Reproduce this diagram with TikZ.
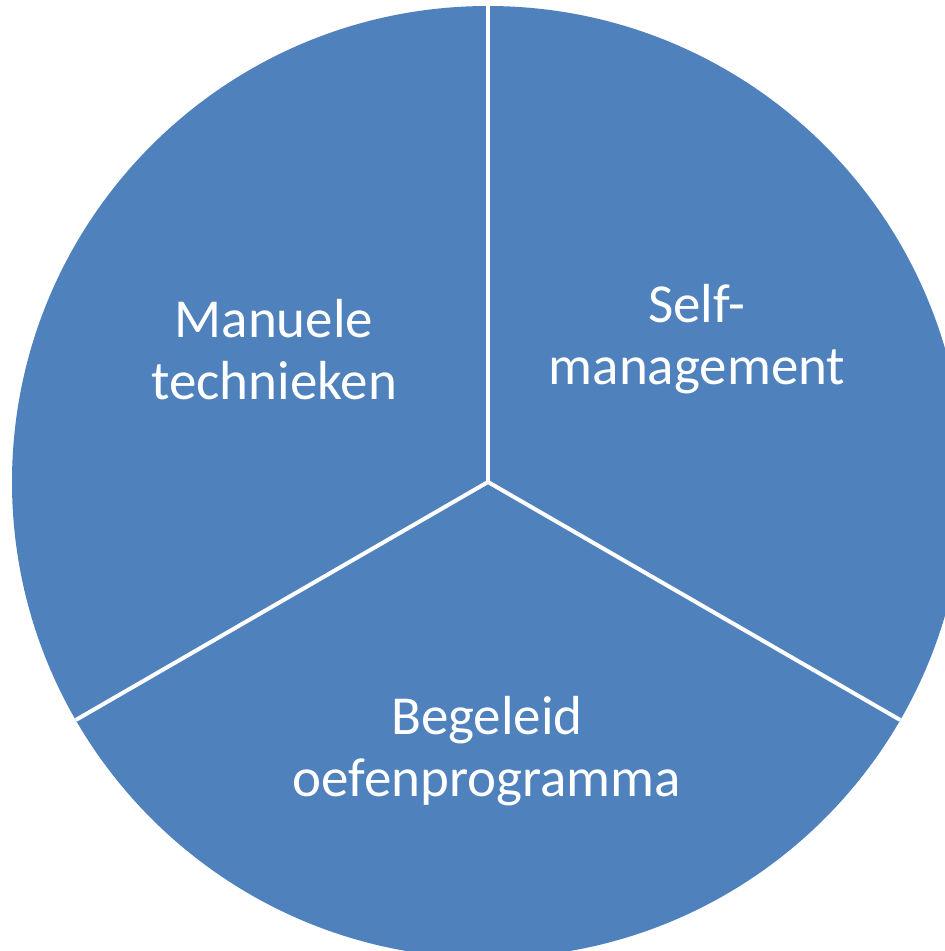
\documentclass[tikz,border=0pt]{standalone}
\usepackage{fontspec}
\setmainfont{Carlito}
\usetikzlibrary{calc}
\definecolor{pieblue}{HTML}{4F81BD}
\begin{document}
\begin{tikzpicture}[x=1pt,y=1pt,
  sector/.style={fill=pieblue,draw=none},
  divider/.style={draw=white,line width=4pt},
  label/.style={text=white,font=\fontsize{55}{62}\selectfont,align=center,inner sep=0pt}]
\useasboundingbox (0,0) rectangle (945,-951);
\coordinate (c) at (488,-482);
\coordinate (top) at ($(c)+(90:476)$);
\coordinate (bl) at ($(c)+(210:476)$);
\coordinate (br) at ($(c)+(-30:476)$);
\begin{scope}
\clip (0,0) rectangle (945,-951);
\fill[sector] (c) circle (476);
\draw[divider] (c) -- (top);
\draw[divider] (c) -- (bl);
\draw[divider] (c) -- (br);
\end{scope}
\node[label] (manuele) at (274,-350) {Manuele\\technieken};
\node[label] (self) at (697,-339) {Self-\\management};
\node[label] (begeleid) at (487,-751) {Begeleid\\oefenprogramma};
\end{tikzpicture}
\end{document}
